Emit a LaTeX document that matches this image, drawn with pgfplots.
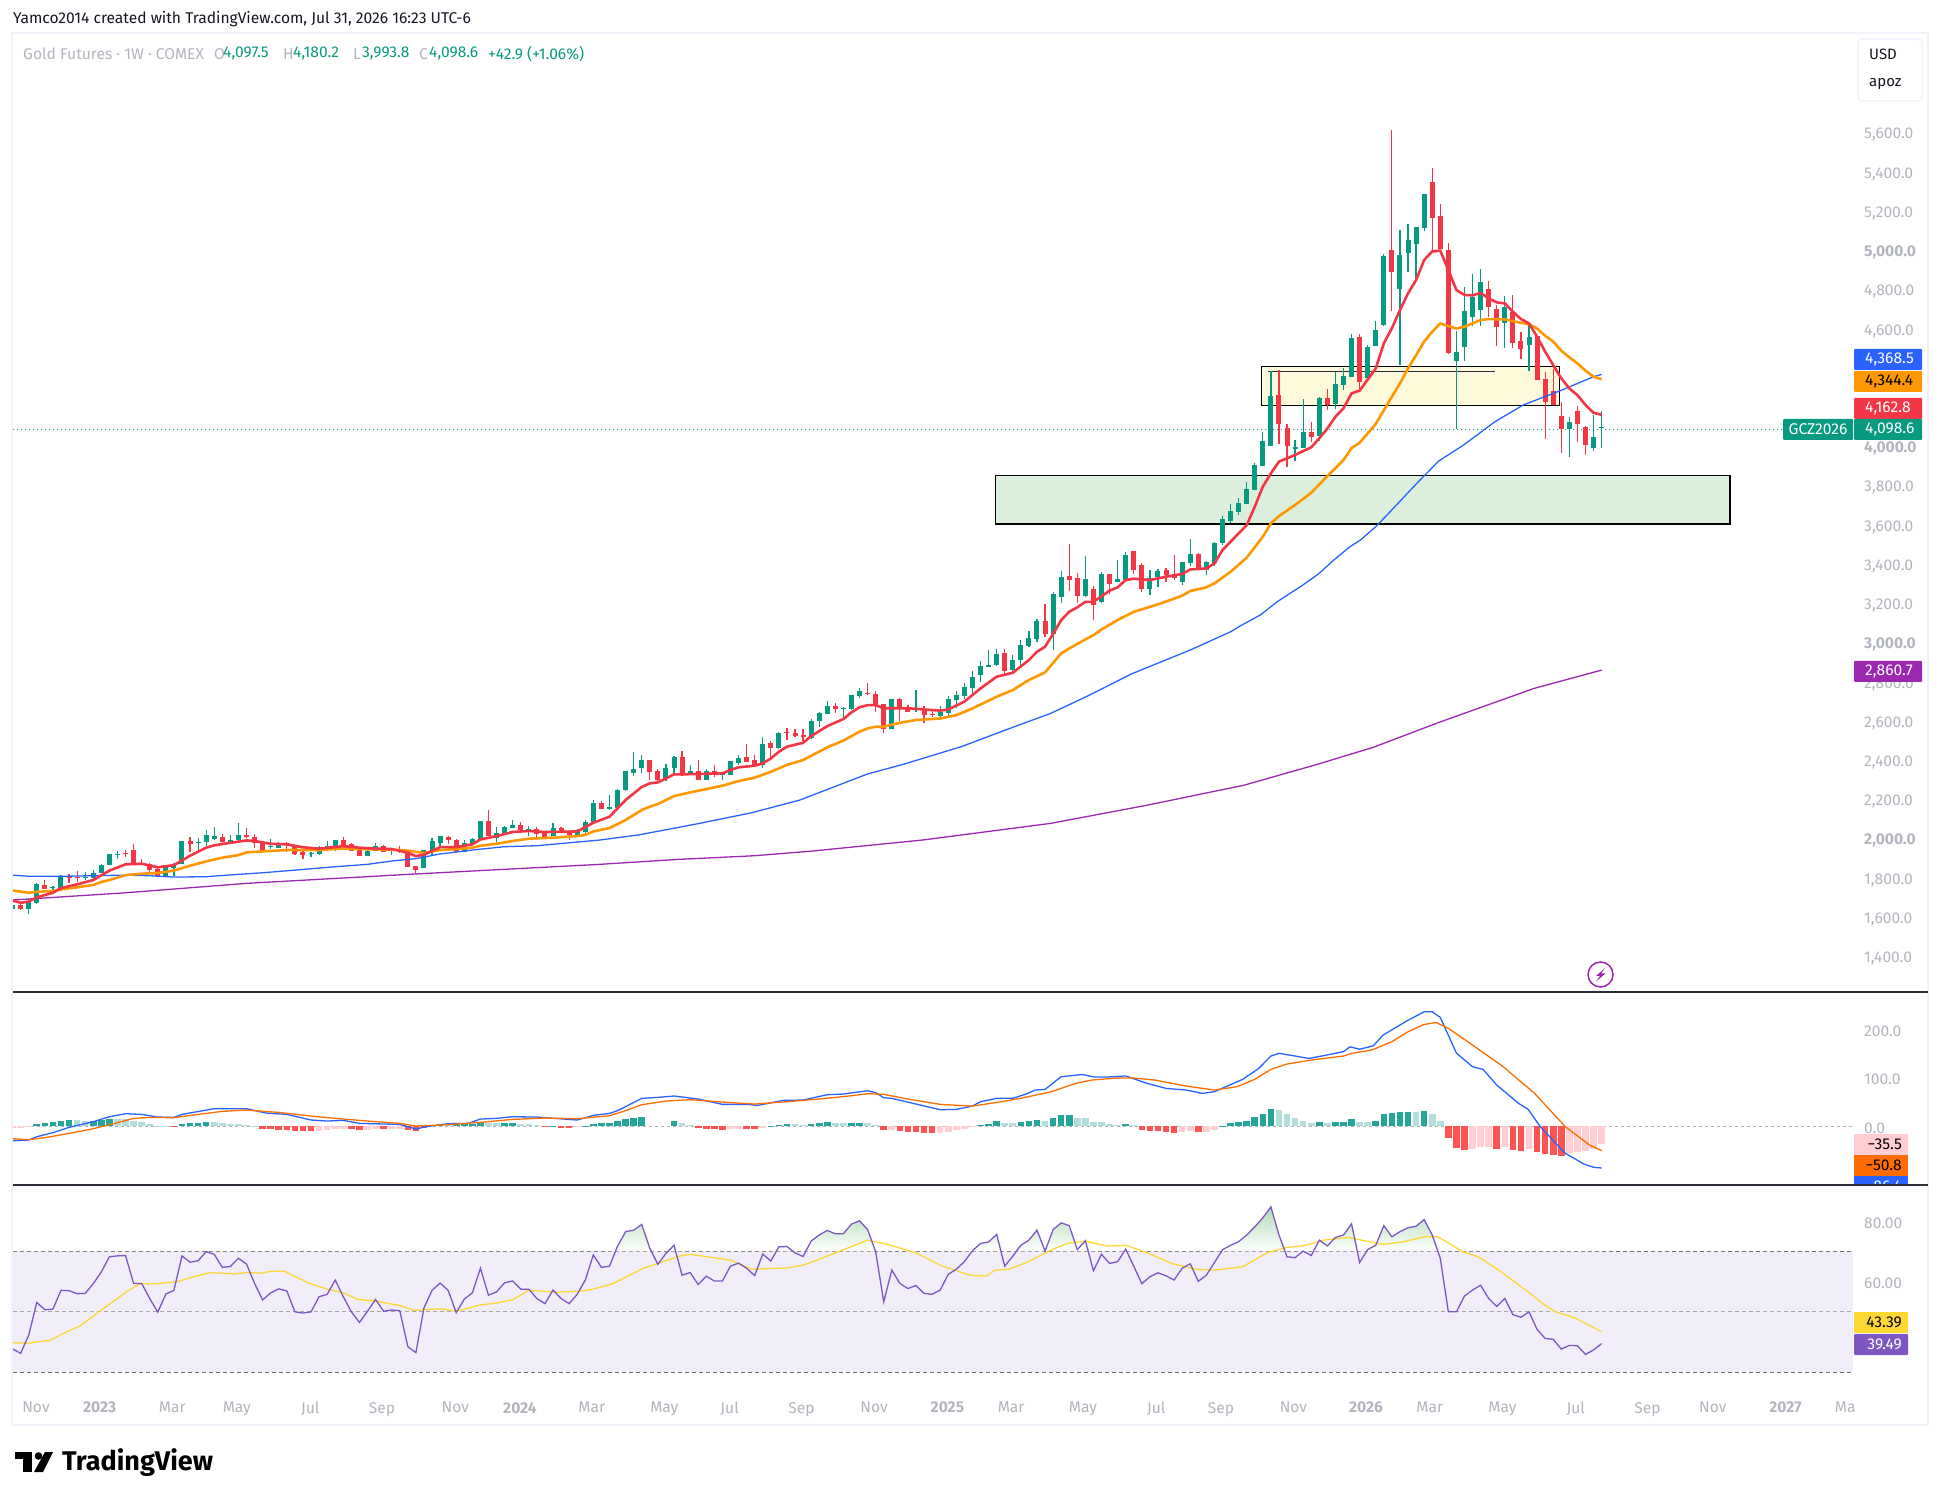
\documentclass[border=0pt]{standalone}
\usepackage{pgfplots}
\usepackage{pgfplotstable}
\usepackage{fontspec}
\pgfplotsset{compat=1.18}
\setmainfont{Fira Sans}
\definecolor{cg}{HTML}{089981}\definecolor{cr}{HTML}{F23645}
\definecolor{cor}{HTML}{FF9800}\definecolor{cbl}{HTML}{2962FF}
\definecolor{cpu}{HTML}{9C27B0}\definecolor{tk}{HTML}{B2B5BE}
\definecolor{bd}{HTML}{F0F3FA}\definecolor{sep}{HTML}{2A2E39}
\definecolor{hdg}{HTML}{26A69A}\definecolor{hlg}{HTML}{B2DFDB}
\definecolor{hlr}{HTML}{FFCDD2}\definecolor{hr}{HTML}{FF5252}
\definecolor{mor}{HTML}{FF6D00}\definecolor{rpu}{HTML}{7E57C2}
\definecolor{ryl}{HTML}{FDD835}\definecolor{band}{HTML}{F1EDF9}
\definecolor{ink}{HTML}{131722}
\newcommand\fs[1]{\fontsize{#1}{#1}\selectfont}

\pgfplotstableread[row sep=\\]{i o h l c\\
0 1642 1662 1642 1662\\2 1642 1691 1618 1683\\3 1674 1773 1666 1770\\5 1749 1759 1722 1753\\6 1751 1815 1736 1810\\9 1802 1829 1790 1805\\10 1800 1841 1797 1826\\11 1826 1872 1826 1866\\12 1866 1923 1866 1923\\13 1919 1940 1899 1923\\19 1812 1863 1810 1860\\20 1853 1875 1812 1872\\21 1872 1989 1872 1989\\23 1980 2004 1945 1984\\24 1984 2045 1965 2020\\25 1999 2060 1994 2014\\27 1986 2020 1977 1994\\28 1992 2081 1987 2020\\32 1958 1997 1948 1963\\33 1953 1984 1953 1974\\37 1926 1934 1907 1929\\38 1923 1963 1919 1958\\39 1948 1989 1948 1963\\40 1953 1994 1938 1994\\44 1912 1948 1912 1938\\45 1938 1977 1938 1963\\47 1940 1953 1919 1943\\51 1851 1943 1851 1943\\52 1933 2004 1917 1989\\53 1979 2016 1963 2014\\56 1933 1994 1933 1979\\57 1974 2004 1967 1999\\58 1994 2091 1994 2091\\60 2004 2060 1984 2030\\61 2025 2065 2020 2060\\62 2055 2096 2055 2070\\64 2043 2065 2014 2050\\67 2014 2081 2014 2055\\70 2020 2050 2020 2045\\71 2035 2096 2030 2086\\72 2081 2198 2076 2183\\74 2150 2223 2147 2162\\75 2157 2254 2157 2249\\76 2249 2346 2244 2346\\77 2336 2443 2320 2356\\78 2361 2428 2336 2402\\
81 2303 2380 2297 2359\\82 2361 2422 2329 2417\\84 2331 2376 2331 2346\\86 2300 2354 2300 2346\\88 2326 2342 2300 2331\\89 2326 2397 2326 2397\\90 2385 2427 2377 2412\\93 2377 2519 2361 2484\\95 2463 2545 2458 2540\\99 2514 2611 2509 2601\\100 2601 2647 2570 2642\\101 2637 2703 2637 2677\\103 2666 2672 2616 2669\\104 2662 2733 2657 2733\\105 2728 2769 2718 2754\\109 2560 2713 2560 2713\\112 2662 2759 2647 2667\\115 2627 2677 2606 2647\\116 2642 2728 2616 2713\\117 2708 2754 2667 2733\\118 2728 2795 2713 2774\\119 2769 2856 2733 2825\\120 2836 2907 2800 2881\\121 2878 2963 2878 2886\\122 2886 2968 2881 2943\\124 2861 2937 2841 2912\\125 2912 3014 2886 2988\\126 2983 3060 2978 3024\\127 3019 3121 3004 3111\\129 3045 3259 2963 3249\\130 3233 3366 3203 3335\\133 3238 3442 3233 3325\\135 3208 3361 3203 3351\\137 3310 3422 3310 3325\\138 3320 3463 3310 3448\\141 3274 3371 3243 3330\\142 3335 3376 3284 3366\\145 3310 3412 3294 3412\\146 3407 3529 3391 3453\\148 3371 3417 3346 3412\\149 3407 3514 3391 3509\\150 3509 3646 3498 3631\\151 3621 3708 3611 3672\\152 3667 3738 3652 3713\\153 3708 3820 3708 3784\\154 3779 3917 3779 3907\\155 3901 4075 3901 4029\\156 4003 4386 4003 4258\\159 3990 4034 3927 3997\\160 3993 4243 3993 4075\\162 4054 4253 4029 4248\\164 4218 4381 4192 4320\\165 4314 4401 4289 4360\\166 4355 4575 4355 4554\\168 4350 4518 4350 4508\\169 4513 4641 4513 4595\\170 4620 4983 4615 4972\\172 4804 5105 4417 4977\\173 4988 5136 4891 5054\\174 5034 5120 4850 5120\\175 5115 5289 5100 5289\\179 4439 4590 4088 4483\\180 4508 4814 4437 4692\\181 4661 4881 4615 4763\\182 4697 4906 4615 4840\\185 4631 4768 4503 4712\\188 4519 4620 4386 4559\\193 4088 4151 3947 4126\\196 3993 4161 3978 4049\\197 4097.5 4180.2 3993.8 4098.6\\
}\tabG
\pgfplotstableread[row sep=\\]{i o h l c\\
1 1662 1674 1639 1642\\4 1763 1788 1744 1744\\7 1805 1821 1776 1800\\8 1807 1834 1780 1804\\14 1928 1945 1907 1923\\15 1943 1974 1866 1870\\16 1873 1895 1866 1870\\17 1870 1875 1826 1841\\18 1848 1853 1810 1812\\22 1989 2009 1933 1975\\26 2009 2025 1977 1982\\29 2020 2055 2006 2009\\30 2009 2025 1953 1977\\31 1977 1980 1933 1938\\34 1977 1984 1934 1974\\35 1963 1967 1919 1923\\36 1933 1940 1899 1917\\41 1994 2009 1958 1963\\42 1972 1977 1938 1940\\43 1943 1948 1912 1912\\46 1963 1967 1933 1933\\48 1945 1963 1928 1941\\49 1943 1943 1856 1856\\50 1861 1861 1821 1841\\54 2009 2014 1974 1994\\55 1994 1997 1929 1933\\59 2091 2147 2014 2014\\63 2070 2086 2035 2045\\65 2050 2062 1999 2025\\66 2030 2035 1999 2004\\68 2055 2060 2030 2035\\69 2040 2045 1994 2020\\73 2183 2193 2152 2152\\79 2402 2402 2300 2341\\
80 2346 2354 2292 2300\\83 2417 2448 2320 2326\\85 2346 2402 2300 2300\\87 2346 2376 2317 2326\\91 2417 2484 2392 2392\\92 2402 2427 2368 2377\\94 2489 2499 2412 2463\\96 2545 2565 2504 2541\\97 2540 2560 2519 2524\\98 2529 2560 2499 2519\\102 2677 2693 2642 2662\\106 2744 2795 2733 2739\\107 2739 2754 2647 2677\\108 2688 2688 2540 2560\\110 2713 2718 2601 2662\\111 2667 2682 2647 2647\\113 2662 2677 2591 2631\\114 2637 2652 2621 2633\\123 2948 2968 2841 2856\\128 3111 3198 3029 3045\\131 3340 3504 3264 3320\\132 3330 3356 3203 3238\\134 3274 3289 3116 3192\\136 3351 3351 3249 3300\\139 3468 3468 3351 3371\\140 3396 3407 3259 3274\\143 3371 3381 3310 3345\\144 3351 3448 3320 3330\\147 3453 3458 3371 3376\\157 4264 4391 4014 4116\\158 4095 4116 3896 4003\\161 4075 4126 4024 4049\\163 4248 4294 4187 4213\\167 4559 4575 4289 4330\\171 5003 5615 4692 4891\\176 5350 5421 5003 5166\\177 5176 5238 5008 5008\\178 5003 5039 4473 4478\\183 4804 4845 4661 4712\\184 4702 4722 4513 4610\\186 4687 4773 4503 4529\\187 4539 4585 4447 4498\\189 4564 4564 4340 4340\\190 4345 4381 4039 4228\\191 4284 4396 4213 4213\\192 4156 4228 3968 4088\\194 4182 4207 4024 4116\\195 4100 4105 3957 4009\\
}\tabR

\pgfplotstableread[row sep=\\]{i v\\
0 1685\\1 1674\\2 1680\\3 1702\\5 1725\\6 1749\\8 1768\\10 1790\\12 1838\\14 1870\\16 1873\\18 1855\\20 1866\\22 1914\\24 1955\\25 1967\\27 1980\\29 1992\\30 1989\\32 1975\\34 1972\\36 1957\\38 1950\\41 1963\\43 1955\\45 1950\\47 1948\\49 1929\\50 1912\\51 1919\\53 1958\\55 1958\\57 1972\\58 1997\\60 2014\\62 2035\\64 2040\\66 2035\\68 2036\\70 2038\\72 2082\\74 2113\\76 2198\\78 2265\\79 2283\\80 2288\\81 2308\\82 2329\\83 2329\\85 2331\\88 2334\\89 2351\\90 2365\\92 2373\\93 2385\\94 2410\\95 2444\\96 2470\\98 2490\\99 2524\\101 2575\\103 2611\\104 2645\\105 2671\\106 2682\\107 2682\\108 2666\\109 2666\\111 2666\\113 2660\\115 2654\\116 2660\\118 2700\\120 2767\\122 2827\\124 2847\\126 2912\\127 2954\\128 2980\\129 3045\\130 3116\\131 3158\\132 3181\\133 3209\\134 3209\\136 3266\\137 3283\\138 3320\\139 3327\\141 3320\\143 3337\\145 3351\\146 3374\\148 3379\\149 3405\\150 3473\\152 3558\\153 3600\\154 3694\\155 3796\\156 3864\\157 3924\\159 3958\\161 3997\\162 4043\\163 4093\\164 4153\\165 4196\\166 4272\\167 4286\\169 4399\\170 4527\\171 4604\\172 4697\\173 4782\\174 4850\\175 4952\\176 4996\\177 5000\\178 4901\\179 4799\\180 4774\\181 4772\\182 4784\\183 4756\\184 4736\\185 4731\\186 4689\\187 4651\\188 4629\\189 4561\\190 4485\\191 4416\\192 4349\\193 4297\\194 4263\\195 4213\\196 4173\\197 4162.8\\
}\lnR
\pgfplotstableread[row sep=\\]{i v\\
0 1737\\2 1725\\3 1730\\5 1734\\6 1742\\8 1753\\10 1765\\11 1780\\12 1790\\14 1815\\16 1822\\18 1826\\20 1838\\22 1863\\24 1885\\26 1904\\28 1917\\29 1931\\31 1936\\34 1943\\38 1943\\41 1951\\43 1948\\47 1945\\49 1940\\51 1928\\53 1943\\55 1948\\57 1955\\58 1965\\60 1975\\62 1989\\64 2001\\67 2006\\70 2014\\71 2020\\72 2038\\74 2055\\76 2096\\78 2147\\79 2164\\80 2178\\82 2218\\84 2237\\88 2271\\90 2295\\92 2312\\94 2342\\96 2377\\98 2402\\100 2445\\101 2467\\103 2501\\105 2547\\106 2563\\107 2572\\108 2572\\110 2592\\112 2606\\115 2614\\117 2631\\119 2665\\122 2725\\124 2759\\126 2810\\128 2849\\130 2946\\131 2971\\133 3017\\134 3039\\135 3068\\137 3116\\139 3158\\142 3196\\145 3240\\146 3264\\148 3283\\149 3303\\151 3362\\153 3434\\155 3541\\156 3609\\157 3646\\159 3703\\161 3765\\163 3850\\165 3932\\166 3993\\167 4020\\169 4116\\171 4255\\172 4323\\173 4399\\174 4467\\175 4536\\176 4586\\177 4629\\178 4615\\179 4603\\180 4612\\181 4629\\182 4646\\183 4651\\185 4649\\187 4632\\188 4625\\189 4603\\190 4566\\191 4536\\192 4490\\193 4456\\194 4425\\195 4388\\196 4357\\197 4344.4\\
}\lnO
\pgfplotstableread[row sep=\\]{i v\\
0 1815\\2 1809\\6 1809\\10 1812\\14 1815\\17 1812\\20 1805\\24 1807\\28 1819\\31 1827\\36 1844\\40 1858\\44 1870\\47 1887\\50 1899\\53 1923\\57 1943\\61 1960\\65 1965\\69 1980\\72.8 1994\\77.6 2020\\84.8 2076\\91.6 2133\\97.6 2198\\106 2331\\110.4 2380\\117.6 2470\\124 2569\\128.7 2640\\133.5 2733\\138.7 2841\\146 2963\\151 3056\\152.2 3086\\154.7 3142\\156.8 3210\\159.8 3290\\161.9 3351\\163.8 3422\\165.8 3490\\167.1 3524\\169 3592\\170.8 3669\\173.9 3805\\176.8 3927\\179.9 4009\\183.8 4128\\187.3 4213\\191.9 4286\\196 4357\\197 4368.5\\
}\lnB
\pgfplotstableread[row sep=\\]{i v\\
0 1688\\3 1696\\14 1725\\29 1773\\50 1821\\72.8 1870\\82.4 1895\\92 1914\\99.2 1938\\112.8 1994\\128.7 2079\\140.7 2172\\152.7 2274\\161.5 2377\\168.7 2467\\176.7 2592\\188.6 2767\\197 2860.7\\
}\lnP

\pgfplotstableread[row sep=\\]{i v\\
3 4.1\\4 6.2\\5 8.2\\6 10.3\\7 12.3\\10 10.3\\11 12.3\\12 15.1\\21 4.1\\22 6.2\\23 6.2\\24 8.2\\52 2.1\\53 4.1\\55 4.1\\56 4.1\\57 4.1\\58 6.2\\61 6.2\\62 6.2\\67 .3\\71 .3\\72 4.1\\73 6.2\\74 6.2\\75 10.3\\76 14.4\\77 16.5\\78 18.5\\82 10.3\\94 .3\\95 2.1\\96 4.1\\99 4.1\\100 6.2\\101 8.2\\104 6.2\\105 6.2\\120 2.1\\121 4.1\\122 10.3\\125 8.2\\126 10.3\\127 12.3\\129 16.5\\130 22.6\\131 22.6\\138 4.1\\150 .3\\151 6.2\\152 8.2\\153 10.3\\154 18.5\\155 24.7\\156 35\\162 8.2\\164 8.2\\165 8.2\\166 14.4\\169 10.3\\170 24.7\\171 26.8\\172 28.8\\173 28.8\\175 30.9\\
}\hDG
\pgfplotstableread[row sep=\\]{i v\\
8 12.3\\9 10.3\\13 13.7\\14 13.7\\15 11\\16 8.2\\17 4.1\\18 .7\\19 .7\\25 8.2\\26 6.2\\27 4.1\\28 4.1\\29 2.1\\30 .7\\54 3.4\\59 6.2\\60 6.2\\63 4.1\\64 4.1\\65 1.4\\83 6.2\\84 2.1\\97 4.1\\98 2.1\\102 6.2\\103 6.2\\106 6.2\\107 2.1\\123 6.2\\124 6.2\\128 10.3\\132 16.5\\133 16.5\\134 8.2\\135 8.2\\136 4.1\\137 2.1\\139 2.1\\157 32.9\\158 24.7\\159 16.5\\160 10.3\\161 6.2\\163 6.2\\167 8.2\\168 8.2\\174 28.8\\176 24.7\\177 10.3\\
}\hLG
\pgfplotstableread[row sep=\\]{i v\\
20 -1.4\\31 -6.2\\32 -6.2\\33 -8.2\\34 -8.2\\35 -10.3\\36 -10.3\\37 -10.3\\42 -6.2\\43 -8.2\\46 -6.2\\49 -8.2\\50 -10.3\\51 -4.1\\66 -2.1\\68 -4.1\\69 -4.1\\85 -4.1\\86 -6.2\\87 -6.2\\88 -8.2\\91 -6.2\\92 -6.2\\108 -8.2\\110 -10.3\\111 -12.3\\112 -12.3\\113 -14.4\\114 -14.4\\140 -8.2\\141 -10.3\\142 -10.3\\143 -12.3\\144 -14.4\\147 -12.3\\178 -24.7\\179 -45.3\\180 -49.4\\184 -47.3\\186 -49.4\\187 -50.8\\189 -53.5\\190 -57.6\\191 -59.7\\192 -61.7\\
}\hR
\pgfplotstableread[row sep=\\]{i v\\
0 -4.1\\1 -4.8\\2 -2.7\\38 -10.3\\39 -8.2\\40 -6.2\\41 -6.2\\44 -8.2\\45 -6.2\\47 -6.2\\48 -6.2\\70 -2.7\\89 -6.2\\90 -6.2\\93 -4.1\\109 -8.2\\115 -14.4\\116 -12.3\\117 -8.2\\118 -6.2\\119 -2.7\\145 -12.3\\146 -10.3\\148 -12.3\\149 -8.2\\181 -46.6\\182 -42.5\\183 -43.9\\185 -43.9\\188 -48\\193 -54.9\\194 -52.8\\195 -50.8\\196 -46.6\\197 -37\\
}\hLR
\pgfplotstableread[row sep=\\]{i v\\
0 -30.3\\2 -28.9\\3 -22\\5 -13.8\\7 -2.8\\10 8.8\\12 19.1\\14 25.3\\16 23.9\\18 18.4\\20 17.7\\21 23.9\\25 35.6\\29 35.6\\31.4 26.7\\34 23.9\\37 12.3\\39 10.2\\41 11.6\\43 5.4\\48 3.3\\50 -6.3\\51 -2.1\\54 4.7\\56.5 5.4\\58 14.3\\60 15.7\\62 19.1\\65 18.4\\70 12.3\\72 21.9\\74 26\\75 31.5\\78 56.9\\80 58.9\\82 61.7\\85 55.5\\88 44.5\\91 44.5\\92.4 42.4\\95.5 52.7\\98 53.4\\101 64.4\\103 65.8\\106 72.6\\107 68.5\\108 58.2\\109 56.9\\115 33.5\\117 34.2\\119 41\\120 50\\122 57\\124 57\\125.7 66\\126.8 74\\128 75.4\\130 101.4\\132.6 106\\134 101\\136 101\\138 103\\140.6 88\\143 77.4\\145.5 74\\147.5 67\\149 70.6\\152.5 96\\154.5 118.6\\156 144\\157 149.5\\159 144\\160.7 139\\162.3 144\\165 153\\165.8 163\\167 158\\168.7 165\\169.9 187\\172.9 216.7\\175 235\\176 235\\177 223.5\\179 150\\181 122\\182.3 116.5\\184 84.3\\186.7 46.6\\187.9 34.2\\189.4 -1.5\\192.5 -56.3\\193.6 -66.6\\194.8 -78.3\\196 -85\\197 -86.4\\
}\mB
\pgfplotstableread[row sep=\\]{i v\\
0 -26.2\\2 -28.2\\4 -24.1\\7 -15.2\\10 -5.6\\13 6.8\\15 15.7\\17 17.7\\20 17.1\\23 23.9\\26 30.1\\29 32.8\\33 28\\37 20.5\\40 15.7\\44 10.2\\48 5.4\\50 0\\54 2.7\\58 7.5\\62 13.6\\66 16.4\\70 15\\74 21.2\\76 31.5\\78 43.8\\81 51.4\\84 54.1\\88 49.3\\92 45.2\\96 50\\100 55.5\\104 62.3\\106 66.5\\108 65.1\\111 55.5\\115 44.5\\119 41\\122.6 50\\125 57\\128.8 70.6\\131.8 87.7\\133.8 94.6\\137 98.7\\139 98.7\\141.6 94.6\\145.5 82.2\\149 74\\151.8 80.9\\154 96\\156 116.5\\158 127.5\\161 135.7\\165 144\\166 149.5\\168.5 156.3\\171 173.5\\173 194\\175 209\\176.5 213\\178 201\\181 166.6\\184.8 122\\188.7 67\\192.5 -1.5\\195.5 -39\\197 -50.8\\
}\mO

\pgfplotstableread[row sep=\\]{i v\\
0 37.7\\1 36.3\\2 42.3\\3 53.1\\4 50.7\\5 50.9\\6 57.1\\7 57\\8 56\\9 56.1\\10 59.3\\11 63.2\\12 68.2\\13 68.5\\14 68.6\\15 59.4\\16 59.4\\17 54.4\\18 49.9\\19 55.9\\20 57.1\\21 68.5\\22 66.4\\23 66.9\\24 69.9\\25 69\\26 64.7\\27 65\\28 67.7\\29 65.8\\30 59.4\\31 53.9\\32 56.3\\33 57.6\\34 56.9\\35 50\\36 49.6\\37 50\\38 55\\39 55.8\\40 60.5\\41 55\\42 50\\43 46.5\\44 50.2\\45 54.1\\46 50.2\\47 50.6\\48 50.4\\49 38.5\\50 36.5\\51 51.3\\52 57.1\\53 59.5\\54 57.1\\55 49.7\\56 54.2\\57 56.3\\58 64.4\\59 55.5\\60 56.6\\61 59.6\\62 60.2\\63 57.5\\64 57.5\\65 54.4\\66 52.7\\67 57.2\\68 54.4\\69 52.7\\70 55.8\\71 60.5\\72 68.8\\73 64.7\\74 65.1\\75 71.7\\76 76.5\\77 77\\78 78.9\\79 71\\80 65.7\\81 69.3\\82 72\\83 62.1\\84 63\\85 59\\86 61.8\\87 60.2\\88 60.2\\89 65.1\\90 66.1\\91 64.4\\92 62\\93 69.1\\94 66.8\\95 71.5\\96 71.6\\97 69.5\\98 68.3\\99 73.4\\100 75.4\\101 76.9\\102 75.8\\103 75.8\\104 79\\105 80.1\\106 77.2\\107 69.9\\108 53.3\\109 63.8\\110 59.4\\111 57.7\\112 58.7\\113 56.1\\114 55.8\\115 57.2\\116 62.4\\117 64.1\\118 66.6\\119 70.2\\120 72.6\\121 73.1\\122 75.6\\123 65.1\\124 68.4\\125 72\\126 73.7\\127 77\\128 70.1\\129 77.2\\130 79.4\\131 78.5\\132 70.6\\133 73.5\\134 63.6\\135 69\\136 66\\137 66.6\\138 70.7\\139 65.1\\140 59.3\\141 61.6\\142 62.9\\143 61.9\\144 60.5\\145 64.4\\146 65.9\\147 60.1\\148 62.1\\149 66.3\\150 70.5\\151 72\\152 73.2\\153 75.4\\154 78.1\\155 81.1\\156 84.7\\157 75.4\\158 68.2\\159 67.9\\160 70.1\\161 68.6\\162 73.7\\163 71.8\\164 74.6\\165 75.4\\166 79.1\\167 66.3\\168 70.6\\169 72\\170 78.5\\171 74.8\\172 76.5\\173 77.8\\174 78.3\\175 80.5\\176 75.4\\177 67.7\\178 50\\179 50\\180 55.2\\181 57.2\\182 58.8\\183 54.4\\184 51.8\\185 54.4\\186 49.1\\187 48.2\\188 50\\189 44.2\\190 41.2\\191 40.9\\192 37.7\\193 38.9\\194 38.8\\195 35.9\\196 37.4\\197 39.49\\
}\rP
\pgfplotstableread[row sep=\\]{i v\\
0 39.8\\2 39.6\\3 40.1\\4.6 40.5\\6 42.5\\8.4 45.4\\10.7 50\\14 56.4\\15.7 59.2\\18 59.3\\18.8 59.6\\20.3 59.9\\22.2 61.4\\24.5 63\\27.6 62.5\\29 63\\31 62.8\\32 63.4\\33.7 63.4\\36.8 59.4\\39 57.5\\41 56.3\\42.8 54.1\\44.9 53.6\\48 52.1\\49.7 50.5\\53 51\\55 50.2\\58 52.3\\60 52.9\\62 54\\64 57.1\\67.5 56.5\\70.6 56.9\\72 57.5\\74.4 59.3\\78.2 64.4\\80 66\\82.8 68.5\\84 69\\89 67.1\\91.6 64.1\\96 64.5\\98 65.4\\100 67.4\\106 73.7\\108.5 72.3\\112 69.5\\115 65.4\\118.7 62.1\\120.7 61.8\\121.8 63.8\\123.4 64\\125.7 66.3\\128.7 70.4\\130.7 72.6\\133 73.4\\135.7 71.7\\138 72\\140.6 69.6\\143.7 66\\146.8 64\\149 63.8\\152.5 64.9\\155.6 69.6\\158 71.3\\160 71.8\\162.5 73.7\\165.6 74.6\\169.9 72.3\\172.5 73.2\\175 74.8\\176.7 74.8\\179.8 69.9\\181.7 68.2\\184.4 63.5\\187.9 56.6\\189.8 52.5\\191.3 50\\193.7 48\\197 43.39\\
}\rY

\pgfplotsset{tv/.style={scale only axis,width=1840pt,xmin=0.05,xmax=228.17,
  axis line style={draw=none},major tick length=0pt,xtick=\empty,
  yticklabel pos=right,
  yticklabel style={anchor=west,inner sep=0pt,xshift=11pt,yshift=-2pt,text=tk,font=\fs{15.6}},
  xticklabel style={anchor=north,inner sep=0pt,yshift=-10pt,text=tk,font=\fs{15.6}},
}}
\begin{document}
\begin{tikzpicture}[x=1pt,y=1pt]
\path[use as bounding box] (0,0) rectangle (1941,1500);

% ---------- main pane
\begin{axis}[tv,at={(13pt,508pt)},anchor=south west,height=959pt,ymin=1219,ymax=6110,
  ytick={1400,1600,1800,2000,2200,2400,2600,2800,3000,3200,3400,3600,3800,4000,4600,4800,5000,5200,5400,5600},
  yticklabels={{1,400.0},{1,600.0},{1,800.0},{\textbf{2,000.0}},{2,200.0},{2,400.0},{2,600.0},{2,800.0},{\textbf{3,000.0}},{3,200.0},{3,400.0},{3,600.0},{3,800.0},{\textbf{4,000.0}},{4,600.0},{4,800.0},{\textbf{5,000.0}},{5,200.0},{5,400.0},{5,600.0}}]
\draw[draw=black,line width=1.4pt,fill={rgb,255:red,220;green,239;blue,220}] (axis cs:121.85,3606) rectangle (axis cs:212.9,3854);
\draw[draw=black,line width=1.4pt,fill={rgb,255:red,255;green,249;blue,219}] (axis cs:154.8,4211) rectangle (axis cs:191.8,4408);
\draw[color=sep,line width=1pt] (axis cs:155.7,4383) -- (axis cs:183.8,4383);
\draw[color=cg,line width=1pt,dash pattern=on 1pt off 3pt] (axis cs:0.05,4090) -- (axis cs:228.17,4090);
% wicks and bodies
\addplot[forget plot,draw=none,no markers,error bars/.cd,y dir=both,y explicit,error mark=none,error bar style={line width=1.2pt,color=cg}] table[x=i,y=o,y error plus expr=\thisrow{h}-\thisrow{o},y error minus expr=\thisrow{o}-\thisrow{l}] {\tabG};
\addplot[forget plot,draw=none,no markers,error bars/.cd,y dir=both,y explicit,error mark=none,error bar style={line width=1.2pt,color=cr}] table[x=i,y=o,y error plus expr=\thisrow{h}-\thisrow{o},y error minus expr=\thisrow{o}-\thisrow{l}] {\tabR};
\addplot[forget plot,draw=none,no markers,error bars/.cd,y dir=both,y explicit,error mark=none,error bar style={line width=5pt,color=cg}] table[x=i,y=o,y error plus expr=\thisrow{c}-\thisrow{o},y error minus expr=0] {\tabG};
\addplot[forget plot,draw=none,no markers,error bars/.cd,y dir=both,y explicit,error mark=none,error bar style={line width=5pt,color=cr}] table[x=i,y=o,y error plus expr=0,y error minus expr=\thisrow{o}-\thisrow{c}] {\tabR};
% averages
\addplot[no markers,color=cpu,line width=1.3pt] table[x=i,y=v] {\lnP};
\addplot[no markers,color=cbl,line width=1.3pt] table[x=i,y=v] {\lnB};
\addplot[no markers,color=cor,line width=2.6pt] table[x=i,y=v] {\lnO};
\addplot[no markers,color=cr,line width=2.6pt] table[x=i,y=v] {\lnR};
\end{axis}

% ---------- MACD pane
\begin{axis}[tv,at={(13pt,315pt)},anchor=south west,height=192pt,ymin=-121.4,ymax=273.7,
  ytick={0,100,200},yticklabels={0.0,100.0,200.0}]
\addplot[forget plot,no markers,color=tk,line width=1pt,dashed] coordinates {(0.05,0) (228.17,0)};
\addplot[ycomb,no markers,color=hdg,line width=6.6pt] table[x=i,y=v] {\hDG};
\addplot[ycomb,no markers,color=hlg,line width=6.6pt] table[x=i,y=v] {\hLG};
\addplot[ycomb,no markers,color=hr,line width=6.6pt] table[x=i,y=v] {\hR};
\addplot[ycomb,no markers,color=hlr,line width=6.6pt] table[x=i,y=v] {\hLR};
\addplot[no markers,color=cbl,line width=1.3pt] table[x=i,y=v] {\mB};
\addplot[no markers,color=mor,line width=1.3pt] table[x=i,y=v] {\mO};
\end{axis}

% ---------- RSI pane
\begin{axis}[tv,at={(13pt,108pt)},anchor=south west,height=206pt,ymin=23.5,ymax=91.6,
  ytick={60,80},yticklabels={60.00,80.00},
  xtick={2.9,10.8,19.8,27.8,36.9,45.8,54.9,62.9,71.8,80.8,88.9,97.8,106.8,115.9,123.8,132.7,141.8,149.8,158.8,167.8,175.7,184.7,193.8,202.7,210.8,219.8,227.2},
  xticklabels={Nov,\textbf{2023},Mar,May,Jul,Sep,Nov,\textbf{2024},Mar,May,Jul,Sep,Nov,\textbf{2025},Mar,May,Jul,Sep,Nov,\textbf{2026},Mar,May,Jul,Sep,Nov,\textbf{2027},Ma}]
\fill[band] (axis cs:0.05,30) rectangle (axis cs:228.17,70);
\addplot[forget plot,no markers,color=black!55,line width=1pt,dash pattern=on 4pt off 3pt] coordinates {(0.05,70) (228.17,70)};
\addplot[forget plot,no markers,color=black!35,line width=1pt,dash pattern=on 4pt off 3pt] coordinates {(0.05,50) (228.17,50)};
\addplot[forget plot,no markers,color=black!55,line width=1pt,dash pattern=on 4pt off 3pt] coordinates {(0.05,30) (228.17,30)};
\addplot[forget plot,draw=none,top color={rgb,255:red,176;green,220;blue,180},bottom color=white] table[x=i,y expr={max(\thisrow{v},70)}] {\rP} -- (axis cs:197,70) -- (axis cs:0,70) -- cycle;
\addplot[no markers,color=ryl,line width=1.3pt] table[x=i,y=v] {\rY};
\addplot[no markers,color=rpu,line width=1.3pt] table[x=i,y=v] {\rP};
\end{axis}

% ---------- frame, labels
\begin{scope}[x=1pt,y=-1pt,yshift=1500pt]
\draw[bd,line width=2pt] (12,33) rectangle (1928,1425);
\draw[sep,line width=1.5pt] (13,992) -- (1928,992);
\draw[sep,line width=1.5pt] (13,1185) -- (1928,1185);
\node[anchor=west,inner sep=0pt,text=ink,font=\fs{15.6}] at (13,19.5) {Yamco2014 created with TradingView.com, Jul 31, 2026 16:23 UTC-6};
\node[anchor=west,inner sep=0pt,text=tk,font=\fs{15.6}] at (23,54) {Gold Futures · 1W · COMEX};
\foreach \x/\t in {214/O,283/H,353/L,419/C}
  \node[anchor=west,inner sep=0pt,text=tk,font=\fs{15.6}] at (\x,54) {\t};
\foreach \x/\t in {223/{4,097.5},293/{4,180.2},362/{3,993.8},429/{4,098.6},488/{+42.9 (+1.06\%)}}
  \node[anchor=west,inner sep=0pt,text=cg,font=\fs{15.6}] at (\x,54) {\t};
% currency box
\draw[bd,fill=white,line width=1.5pt,rounded corners=4pt] (1858,39) rectangle (1922,101);
\node[anchor=west,inner sep=0pt,text=ink,font=\fs{15}] at (1869,54.5) {USD};
\node[anchor=west,inner sep=0pt,text=ink,font=\fs{15}] at (1869,84) {apoz};
% price tags
\fill[cbl,rounded corners=1pt] (1854,349) rectangle (1922,370);
\node[anchor=west,inner sep=0pt,text=white,font=\fs{15.6}] at (1865,359.5) {4,368.5};
\fill[cor,rounded corners=1pt] (1854,371) rectangle (1922,392);
\node[anchor=west,inner sep=0pt,text=black,font=\fs{15.6}] at (1865,381.5) {4,344.4};
\fill[cr,rounded corners=1pt] (1854,398) rectangle (1922,419);
\node[anchor=west,inner sep=0pt,text=white,font=\fs{15.6}] at (1865,408.5) {4,162.8};
\fill[cg,rounded corners=1pt] (1854,419) rectangle (1922,440);
\node[anchor=west,inner sep=0pt,text=white,font=\fs{15.6}] at (1865,429.5) {4,098.6};
\fill[cg,rounded corners=1pt] (1783,419) rectangle (1853,440);
\node[inner sep=0pt,text=white,font=\fs{15.6}] at (1818,429.5) {GCZ2026};
\fill[cpu,rounded corners=1pt] (1854,661) rectangle (1922,682);
\node[anchor=west,inner sep=0pt,text=white,font=\fs{15.6}] at (1865,671.5) {2,860.7};
% MACD tags
\fill[hlr] (1854,1134) rectangle (1908,1155);
\node[anchor=east,inner sep=0pt,text=black,font=\fs{15.6}] at (1902,1144.5) {−35.5};
\fill[mor] (1854,1155) rectangle (1908,1176);
\node[anchor=east,inner sep=0pt,text=black,font=\fs{15.6}] at (1902,1165.5) {−50.8};
\begin{scope}
\clip (1854,1176) rectangle (1908,1184);
\fill[cbl] (1854,1176) rectangle (1908,1197);
\node[anchor=east,inner sep=0pt,text=white,font=\fs{15.6}] at (1902,1186.5) {−86.4};
\end{scope}
% RSI tags
\fill[ryl,rounded corners=1pt] (1854,1312) rectangle (1908,1333);
\node[anchor=east,inner sep=0pt,text=black,font=\fs{15.6}] at (1902,1322.5) {43.39};
\fill[rpu,rounded corners=1pt] (1854,1334) rectangle (1908,1355);
\node[anchor=east,inner sep=0pt,text=white,font=\fs{15.6}] at (1902,1344.5) {39.49};
% lightning marker
\draw[cpu,line width=1.5pt,fill=white] (1600.5,974.5) circle (12.5);
\fill[cpu] (1605,968) -- (1596,976) -- (1600,976) -- (1596,981.5) -- (1605.5,973.5) -- (1601,973.5) -- cycle;
% logo
\fill[black] (15,1452) rectangle (32,1459);
\fill[black] (23,1452) rectangle (32,1472);
\fill[black] (38.5,1456) circle (3.8);
\fill[black] (45,1452) -- (53,1452) -- (43,1472) -- (34,1472) -- cycle;
\node[anchor=west,inner sep=0pt,text=black,font=\bfseries\fs{27}] at (62,1463) {TradingView};
\end{scope}
\end{tikzpicture}
\end{document}
